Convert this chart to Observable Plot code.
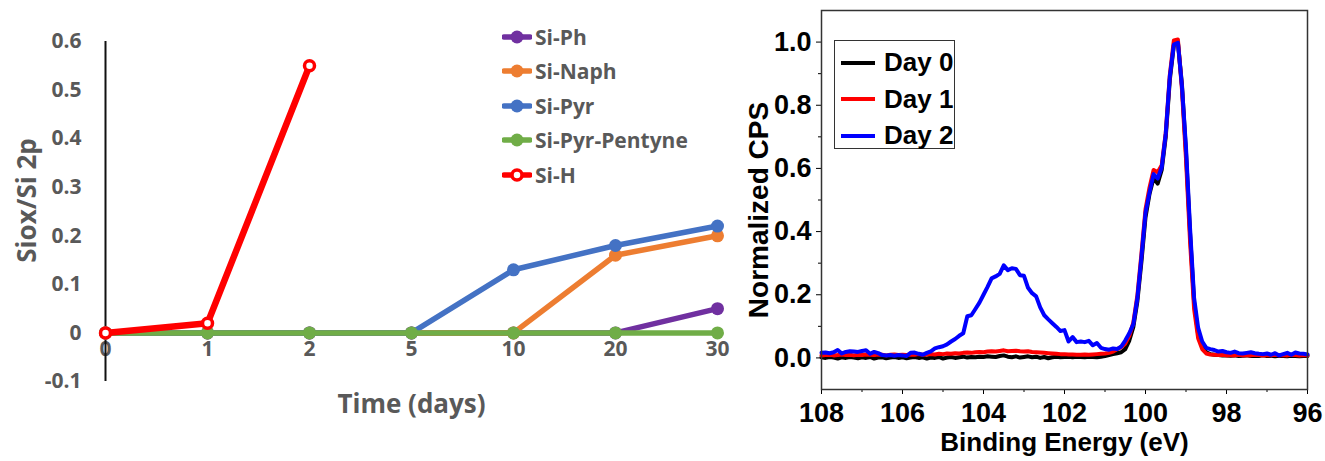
<!DOCTYPE html>
<html>
<head>
<meta charset="utf-8">
<script src="https://cdn.jsdelivr.net/npm/d3@7"></script>
<script src="https://cdn.jsdelivr.net/npm/@observablehq/plot@0.6"></script>
<style>
  body { margin: 0; background: #fff; }
  #wrap { position: relative; width: 1325px; height: 461px; overflow: hidden; background: #fff; }
  #left { position: absolute; left: 0; top: 0; }
  #right { position: absolute; left: 740px; top: 0; }
  .leg-row { position: absolute; display: flex; align-items: center; height: 34px; white-space: nowrap; }
  .leg-left { font-family: "Open Sans", sans-serif; font-weight: 700; font-size: 21px; color: #595959; }
  .leg-left svg { margin-right: 3px; }
  #specLegend { position: absolute; left: 834px; top: 40px; width: 119px; height: 107px;
                border: 1.5px solid #333; background: #fff; }
  .leg-right { font-family: "Liberation Sans", Arial, sans-serif; font-weight: 700; font-size: 26px; color: #000; }
</style>
</head>
<body>
<div id="wrap">
  <div id="left"></div>
  <div id="right"></div>
  <div id="oxLegend"></div>
  <div id="specLegend"></div>
</div>
<script>
// ---------- Oxide growth vs. time (left panel) ----------
const days = ["0", "1", "2", "5", "10", "20", "30"];
const seriesNames = ["Si-Ph", "Si-Naph", "Si-Pyr", "Si-Pyr-Pentyne", "Si-H"];
const seriesColors = ["#7030A0", "#ED7D31", "#4472C4", "#70AD47", "#FF0000"];
const siPh = [0, 0, 0, 0, 0, 0, 0.05];
const siNaph = [0, 0, 0, 0, 0, 0.16, 0.20];
const siPyr = [0, 0, 0, 0, 0.13, 0.18, 0.22];
const siPyrPentyne = [0, 0, 0, 0, 0, 0, 0];
const siH = [0, 0.02, 0.55, null, null, null, null];
const ratioTicks = [-0.1, 0, 0.1, 0.2, 0.3, 0.4, 0.5, 0.6];

// ---------- Si 2p spectra (right panel) ----------
const energy = [
  108.0, 107.9, 107.8, 107.7, 107.6, 107.5, 107.4, 107.3, 107.2, 107.1,
  107.0, 106.9, 106.8, 106.7, 106.6, 106.5, 106.4, 106.3, 106.2, 106.1,
  106.0, 105.9, 105.8, 105.7, 105.6, 105.5, 105.4, 105.3, 105.2, 105.1,
  105.0, 104.9, 104.8, 104.7, 104.6, 104.5, 104.4, 104.3, 104.2, 104.1,
  104.0, 103.9, 103.8, 103.7, 103.6, 103.5, 103.4, 103.3, 103.2, 103.1,
  103.0, 102.9, 102.8, 102.7, 102.6, 102.5, 102.4, 102.3, 102.2, 102.1,
  102.0, 101.9, 101.8, 101.7, 101.6, 101.5, 101.4, 101.3, 101.2, 101.1,
  101.0, 100.9, 100.8, 100.7, 100.6, 100.5, 100.4, 100.3, 100.2, 100.1,
  100.0, 99.9, 99.8, 99.7, 99.6, 99.5, 99.4, 99.3, 99.2, 99.1,
  99.0, 98.9, 98.8, 98.7, 98.6, 98.5, 98.4, 98.3, 98.2, 98.1,
  98.0, 97.9, 97.8, 97.7, 97.6, 97.5, 97.4, 97.3, 97.2, 97.1,
  97.0, 96.9, 96.8, 96.7, 96.6, 96.5, 96.4, 96.3, 96.2, 96.1,
  96.0
];
const day0 = [
  0.002, 0.000, 0.003, 0.001, -0.002, 0.002, 0.000, 0.003, 0.001, -0.001,
  0.002, 0.000, 0.003, -0.002, 0.001, 0.002, -0.001, 0.001, 0.003, 0.000,
  0.002, -0.001, 0.001, 0.003, 0.000, 0.002, -0.002, 0.001, 0.000, 0.003,
  -0.002, 0.001, 0.003, 0.000, 0.002, 0.004, 0.001, 0.003, 0.002, 0.004,
  0.003, 0.005, 0.004, 0.003, 0.006, 0.008, 0.004, 0.002, 0.005, 0.001,
  0.003, 0.005, 0.002, 0.004, 0.000, 0.003, -0.001, 0.002, 0.004, 0.002,
  0.003, 0.004, 0.002, 0.004, 0.003, 0.002, 0.004, 0.003, 0.002, 0.004,
  0.006, 0.009, 0.012, 0.015, 0.018, 0.028, 0.055, 0.098, 0.180, 0.305,
  0.445, 0.520, 0.570, 0.552, 0.595, 0.700, 0.880, 0.990, 1.000, 0.865,
  0.650, 0.395, 0.175, 0.075, 0.035, 0.018, 0.012, 0.010, 0.009, 0.008,
  0.008, 0.007, 0.008, 0.006, 0.007, 0.008, 0.006, 0.007, 0.006, 0.008,
  0.006, 0.007, 0.005, 0.007, 0.006, 0.005, 0.007, 0.006, 0.005, 0.006,
  0.006
];
const day1 = [
  0.008, 0.009, 0.010, 0.008, 0.009, 0.011, 0.009, 0.010, 0.008, 0.010,
  0.009, 0.011, 0.010, 0.009, 0.011, 0.010, 0.008, 0.010, 0.011, 0.009,
  0.010, 0.009, 0.011, 0.010, 0.012, 0.010, 0.011, 0.012, 0.011, 0.013,
  0.012, 0.014, 0.013, 0.015, 0.014, 0.016, 0.017, 0.016, 0.018, 0.019,
  0.018, 0.020, 0.021, 0.020, 0.022, 0.024, 0.021, 0.022, 0.023, 0.021,
  0.020, 0.021, 0.019, 0.018, 0.017, 0.016, 0.015, 0.014, 0.013, 0.012,
  0.012, 0.011, 0.011, 0.010, 0.010, 0.011, 0.010, 0.011, 0.012, 0.013,
  0.014, 0.016, 0.020, 0.028, 0.034, 0.045, 0.070, 0.112, 0.198, 0.330,
  0.470, 0.540, 0.595, 0.588, 0.610, 0.712, 0.895, 1.005, 1.008, 0.850,
  0.630, 0.370, 0.155, 0.062, 0.028, 0.014, 0.011, 0.010, 0.009, 0.010,
  0.008, 0.009, 0.008, 0.010, 0.008, 0.009, 0.008, 0.010, 0.009, 0.008,
  0.009, 0.008, 0.010, 0.008, 0.009, 0.008, 0.010, 0.009, 0.008, 0.009,
  0.008
];
const day2 = [
  0.016, 0.017, 0.015, 0.018, 0.025, 0.014, 0.019, 0.021, 0.020, 0.019,
  0.022, 0.024, 0.013, 0.019, 0.015, 0.009, 0.008, 0.009, 0.007, 0.009,
  0.008, 0.006, 0.016, 0.017, 0.013, 0.010, 0.016, 0.021, 0.030, 0.034,
  0.037, 0.043, 0.052, 0.060, 0.070, 0.078, 0.132, 0.135, 0.155, 0.175,
  0.200, 0.225, 0.252, 0.258, 0.266, 0.293, 0.278, 0.284, 0.282, 0.262,
  0.260, 0.222, 0.205, 0.195, 0.160, 0.135, 0.122, 0.110, 0.098, 0.085,
  0.088, 0.052, 0.066, 0.050, 0.052, 0.050, 0.054, 0.040, 0.047, 0.032,
  0.028, 0.026, 0.030, 0.028, 0.036, 0.055, 0.078, 0.107, 0.190, 0.320,
  0.460, 0.525, 0.582, 0.568, 0.603, 0.710, 0.890, 0.992, 0.998, 0.860,
  0.665, 0.410, 0.190, 0.095, 0.052, 0.032, 0.028, 0.025, 0.020, 0.022,
  0.018, 0.016, 0.020, 0.015, 0.014, 0.016, 0.018, 0.015, 0.013, 0.012,
  0.014, 0.010, 0.015, 0.008, 0.012, 0.016, 0.010, 0.017, 0.014, 0.013,
  0.011
];
const spectraNames = ["Day 0", "Day 1", "Day 2"];
const spectraColors = ["#000000", "#FF0000", "#0000FF"];
const energyMajor = [108, 106, 104, 102, 100, 98, 96];
const energyMinor = [107, 105, 103, 101, 99, 97];
const cpsMajor = [0, 0.2, 0.4, 0.6, 0.8, 1.0];
const cpsMinor = [0.1, 0.3, 0.5, 0.7, 0.9];

// ----- left panel -----
const seriesValues = [siPh, siNaph, siPyr, siPyrPentyne, siH];
const seriesMarks = seriesValues.flatMap((vals, i) => {
  const rows = days.map((d, j) => ({day: d, v: vals[j]}));
  const color = seriesColors[i];
  const hollow = seriesNames[i] === "Si-H";
  return [
    Plot.line(rows, {x: "day", y: "v", stroke: color, strokeWidth: hollow ? 6.5 : 5.5}),
    hollow
      ? Plot.dot(rows, {x: "day", y: "v", r: 5, fill: "#fff", stroke: color, strokeWidth: 3.5})
      : Plot.dot(rows, {x: "day", y: "v", r: 6.5, fill: color})
  ];
});

const leftPlot = Plot.plot({
  width: 740,
  height: 461,
  marginLeft: 105,
  marginRight: 23,
  marginTop: 41,
  marginBottom: 80,
  style: {fontFamily: "'Open Sans', sans-serif", fontWeight: 700, color: "#595959", background: "transparent", overflow: "visible"},
  x: {type: "point", domain: days, padding: 0, axis: null},
  y: {domain: [-0.1, 0.6]},
  marks: [
    Plot.axisY(ratioTicks, {tickSize: 0, tickPadding: 24, fontSize: 21, label: null,
      tickFormat: d => d === 0 ? "0" : d.toFixed(1)}),
    Plot.text(days, {x: d => d, y: () => 0, dy: 16, fontSize: 21, fill: "#595959"}),
    Plot.ruleX([days[0]], {y1: -0.1, y2: 0.6, stroke: "#111", strokeWidth: 2}),
    ...seriesMarks,
    Plot.text(["Time (days)"], {frameAnchor: "bottom", textAnchor: "middle", lineAnchor: "middle", dy: 23, fontSize: 26, fill: "#595959"}),
    Plot.text(["Siox/Si 2p"], {frameAnchor: "left", textAnchor: "middle", lineAnchor: "middle", rotate: -90, dx: -78, dy: -11, fontSize: 26, fill: "#595959"})
  ]
});
document.getElementById("left").append(leftPlot);

// legend with line + marker swatches
const oxLegend = document.getElementById("oxLegend");
seriesNames.forEach((name, i) => {
  const row = document.createElement("div");
  row.className = "leg-row leg-left";
  row.style.left = "502px";
  row.style.top = (20 + i * 34.4) + "px";
  const color = seriesColors[i];
  const marker = name === "Si-H"
    ? `<circle cx="15" cy="8" r="5" fill="#fff" stroke="${color}" stroke-width="3.5"/>`
    : `<circle cx="15" cy="8" r="6.5" fill="${color}"/>`;
  row.innerHTML = `<svg width="30" height="16"><line x1="2" x2="28" y1="8" y2="8" stroke="${color}" stroke-width="5.5" stroke-linecap="round"/>${marker}</svg><span>${name}</span>`;
  oxLegend.append(row);
});

// ----- right panel -----
const spectra = [day0, day1, day2].map(vals => energy.map((e, i) => ({e, v: vals[i]})));

const rightPlot = Plot.plot({
  width: 585,
  height: 461,
  marginLeft: 81,
  marginRight: 18,
  marginTop: 10,
  marginBottom: 72,
  style: {fontFamily: "'Liberation Sans', Arial, sans-serif", fontWeight: 700, color: "#000", background: "transparent", overflow: "visible"},
  x: {domain: [108, 96]},
  y: {domain: [-0.1, 1.1]},
  marks: [
    Plot.axisX(energyMajor, {tickSize: 5, tickPadding: 8, fontSize: 27, label: null, tickFormat: d => String(d)}),
    Plot.axisX(energyMinor, {tickSize: 3, label: null, tickFormat: () => ""}),
    Plot.axisY(cpsMajor, {tickSize: 5, tickPadding: 5, fontSize: 27, label: null, tickFormat: d => d.toFixed(1)}),
    Plot.axisY(cpsMinor, {tickSize: 3, label: null, tickFormat: () => ""}),
    ...spectra.map((rows, i) => Plot.line(rows, {x: "e", y: "v", stroke: spectraColors[i], strokeWidth: 4})),
    Plot.frame({stroke: "#333", strokeWidth: 1.5}),
    Plot.text(["Binding Energy (eV)"], {frameAnchor: "bottom", textAnchor: "middle", lineAnchor: "middle", dy: 53, fontSize: 26}),
    Plot.text(["Normalized CPS"], {frameAnchor: "left", textAnchor: "middle", lineAnchor: "middle", rotate: -90, dx: -62, dy: 10, fontSize: 28})
  ]
});
document.getElementById("right").append(rightPlot);

const specLegend = document.getElementById("specLegend");
spectraNames.forEach((name, i) => {
  const row = document.createElement("div");
  row.className = "leg-row leg-right";
  row.style.left = "5px";
  row.style.top = (4.5 + i * 36.7) + "px";
  row.innerHTML = `<svg width="36" height="8" style="margin-right:8px"><line x1="1" x2="35" y1="4" y2="4" stroke="${spectraColors[i]}" stroke-width="4"/></svg><span>${name}</span>`;
  specLegend.append(row);
});
</script>
</body>
</html>
